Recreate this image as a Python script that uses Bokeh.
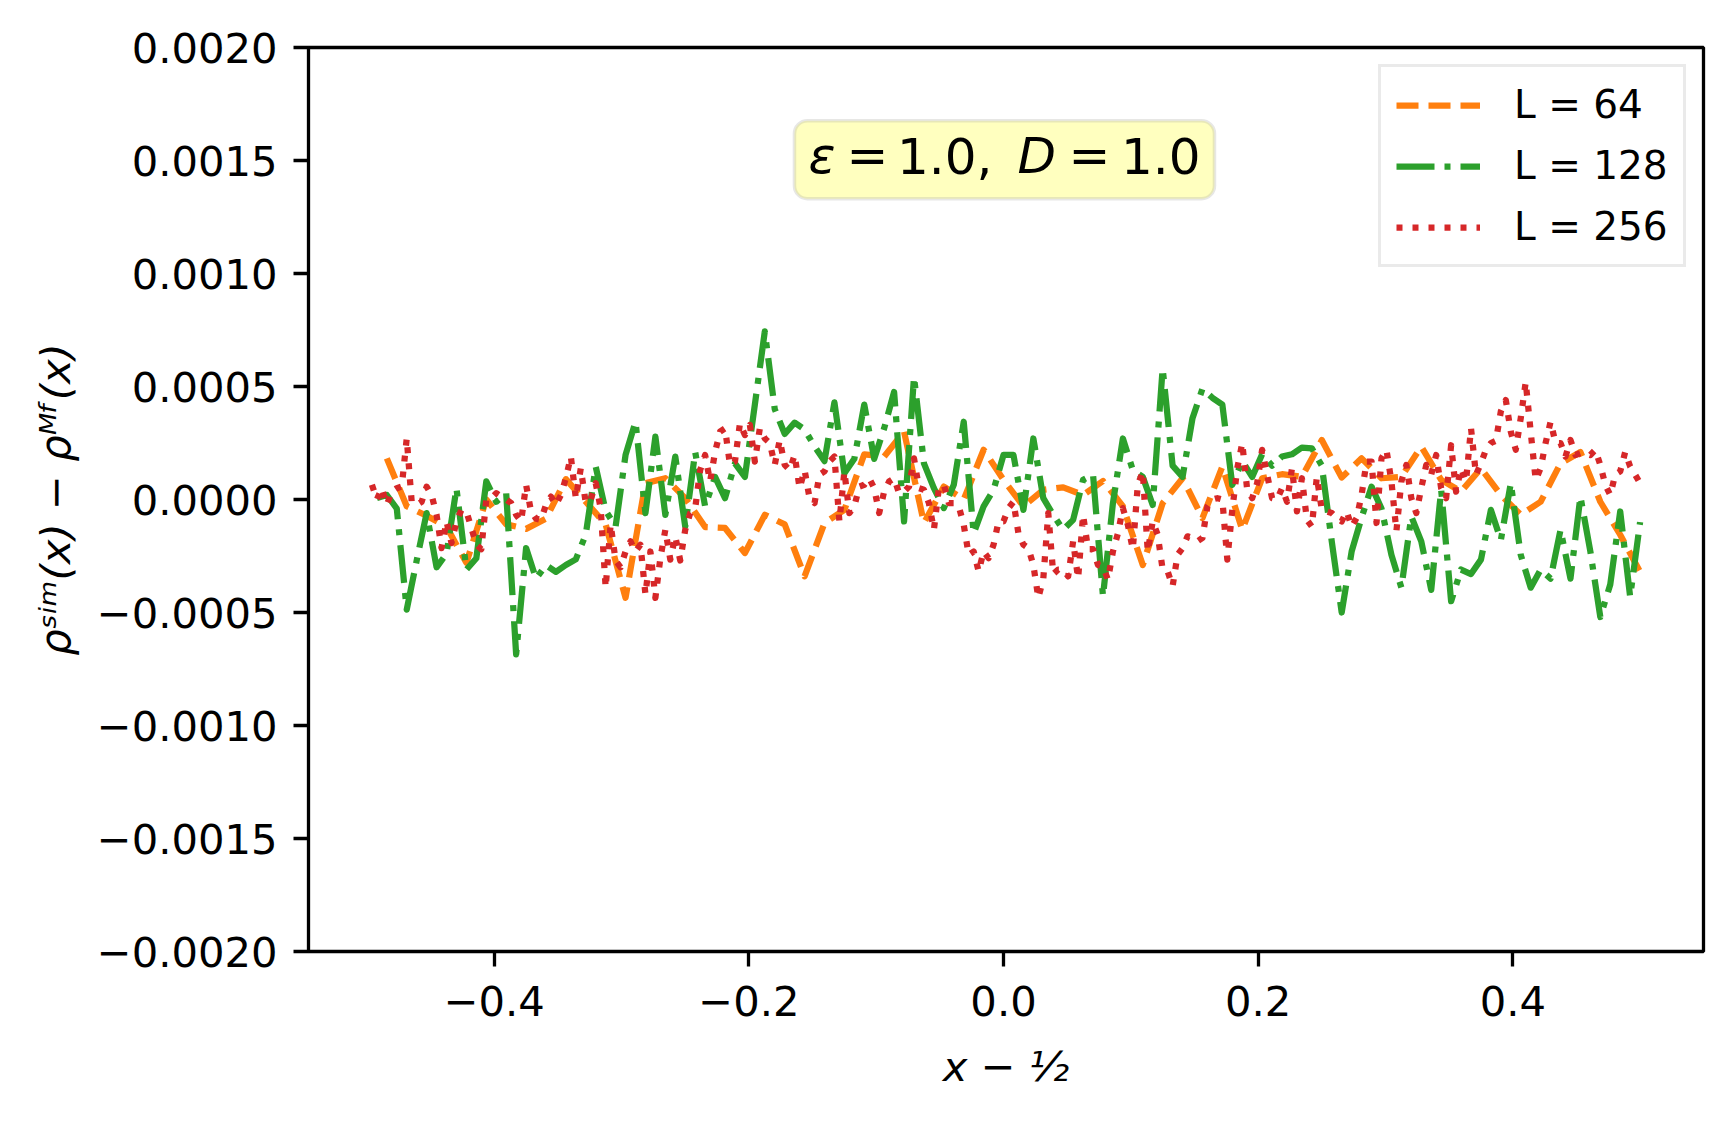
import numpy as np
from bokeh.plotting import figure
from bokeh.models import (FixedTicker, CustomJSTickFormatter, Legend, LegendItem,
                          BoxAnnotation, Label)
from bokeh.embed import file_html
from bokeh.resources import INLINE

# ---------------- data (values in units of 1e-4) ----------------
L_SIZES = [64, 128, 256]
SERIES_LABELS = ["L = 64", "L = 128", "L = 256"]
SERIES_COLORS = ["#ff7f0e", "#2ca02c", "#d62728"]
SERIES_DASHES = ["22 10", "38 10 6 10", "6 10"]
VALUE_UNIT = 1e-4

delta_L64 = [
    1.82, -0.3, -0.72, -1.2, -2.8, 0.0, -1.1, -1.3,
    -0.85, 0.9, -0.1, -1.1, -4.35, 0.72, 0.94, 0.06,
    -1.22, -1.26, -2.37, -0.68, -1.1, -3.4, -1.04, -0.46,
    2.0, 1.9, 3.0, -1.04, 0.57, 0.0, 2.2, 0.87,
    -0.3, 0.43, 0.54, 0.2, 0.82, -0.3, -2.9, -0.16,
    0.94, -0.82, 1.46, -1.34, 0.94, 1.12, 1.0, 2.63,
    0.97, 1.82, 0.94, 1.0, 2.34, 0.87, 0.35, 1.38,
    0.2, -0.68, -0.1, 1.6, 2.1, -0.1, -1.56, -3.2,
]

delta_L128 = [
    0.06, 0.2, -0.4, -4.87, -2.7, -0.6, -3.0, -2.4,
    0.5, -3.1, -2.6, 0.8, -0.1, 0.28, -6.85, -2.15,
    -3.5, -2.9, -3.2, -2.9, -2.65, -1.55, 1.45, -0.5,
    -1.2, 1.97, 3.44, -0.6, 2.78, -0.68, 1.9, -1.2,
    2.1, -0.3, 1.0, 0.06, 1.6, 1.0, 4.2, 7.44,
    4.0, 2.9, 3.4, 3.1, 2.35, 1.7, 4.3, 1.16,
    1.8, 4.2, 1.8, 3.15, 4.76, -0.97, 5.43, 1.6,
    0.5, -0.38, 0.65, 3.44, -1.5, -0.3, 0.43, 1.97,
    1.97, -0.46, 2.7, 0.06, -0.68, -1.34, -0.9, 0.87,
    1.1, -4.28, -0.16, 2.7, 1.3, 1.0, -0.24, 5.8,
    1.5, 1.0, 3.6, 4.9, 4.5, 4.2, 0.65, 1.7,
    1.0, 2.0, 1.5, 1.9, 2.0, 2.3, 2.26, 1.5,
    -1.85, -5.0, -2.3, -0.8, 0.57, -0.4, -2.45, -3.9,
    -0.75, -1.85, -4.0, 0.43, -4.5, -3.1, -3.3, -2.66,
    -0.46, -1.8, 0.72, -2.45, -3.9, -3.1, -3.5, -1.34,
    -3.5, 0.13, -2.3, -5.2, -3.76, -0.53, -4.3, -1.0,
]

delta_L256 = [
    0.65, 0.0, 0.5, -0.24, 0.35, 0.5, 0.57, 2.7,
    -0.1, -0.24, -0.1, 0.57, 0.2, -0.68, -2.15, -0.97,
    -1.93, -0.97, -0.46, -0.53, -1.26, -2.0, -2.2, 0.0,
    0.06, 0.28, 0.13, 0.0, -0.16, -0.68, -0.97, 0.65,
    -0.53, -0.85, -0.9, -0.24, 0.13, -0.24, 0.2, 0.94,
    1.9, 0.06, 1.38, -0.16, 0.0, 0.72, -0.38, -3.9,
    -1.1, -2.7, -3.0, -2.3, -1.85, -2.3, -2.0, -4.2,
    -2.3, -4.35, -2.6, -1.34, -2.66, -1.63, -2.7, -1.34,
    -0.6, -0.4, 1.3, 1.97, 0.8, 2.1, 3.0, 3.15,
    1.53, 1.68, 3.37, 2.85, 3.3, 1.68, 3.15, 2.7,
    2.5, 1.53, 2.63, 1.53, 1.3, 1.97, 0.5, 1.3,
    0.06, -0.16, 1.1, 1.24, 1.68, 1.9, -0.97, 1.24,
    -0.6, -0.3, 0.57, 0.65, 0.94, 0.5, -0.6, 0.35,
    0.8, 0.94, 0.28, 0.35, 0.57, 1.82, 0.5, 0.43,
    -0.16, -1.34, 0.5, 0.65, -0.16, -0.16, -0.3, -1.12,
    -2.45, -2.3, -3.18, -2.3, -2.6, -2.0, -0.97, -0.97,
    -0.38, -0.1, -1.5, -2.0, -2.15, -2.9, -4.35, -3.5,
    -0.6, -3.3, -3.1, -3.1, -3.4, -1.85, -3.5, -0.68,
    -2.2, -2.2, -2.9, -2.96, -3.55, -2.3, -1.5, -0.38,
    -1.12, -2.2, 0.65, 1.24, -2.3, -0.97, -1.56, -3.1,
    -3.18, -3.84, -2.45, -2.15, -1.63, -1.7, -1.85, -1.7,
    -0.3, 0.0, 0.06, 0.0, -2.66, -0.46, 1.38, 2.5,
    0.43, 0.06, 0.72, 2.2, 1.1, 0.06, 0.0, 0.5,
    -0.1, 1.38, -0.53, 0.94, -0.9, -1.2, 1.0, -0.46,
    -0.53, -0.6, -0.82, -0.97, -0.53, -1.2, -0.82, 0.2,
    1.68, 1.68, -1.04, 1.82, 2.2, 0.8, -1.4, 0.8,
    1.53, 0.06, -0.6, 0.5, 1.53, 1.1, 1.97, 0.5,
    0.06, 2.4, 0.35, 1.38, 0.8, 3.15, 1.1, 1.6,
    2.2, 2.5, 2.6, 3.9, 4.4, 3.0, 2.2, 3.6,
    5.2, 3.0, 0.87, 1.38, 2.5, 3.44, 2.5, 2.5,
    1.9, 2.63, 1.97, 2.05, 2.05, 1.97, 2.2, 1.53,
    0.65, 0.2, 1.1, 1.24, 2.1, 1.46, 1.1, 0.72,
]

Y_TICKS = [-0.0020, -0.0015, -0.0010, -0.0005, 0.0, 0.0005, 0.0010, 0.0015, 0.0020]
X_TICKS = [-0.4, -0.2, 0.0, 0.2, 0.4]
Y_LABEL = "ρˢⁱᵐ(x) − ρᴹᶠ(x)"
X_LABEL = "x − ½"

FONT = "DejaVu Sans"
TICK_SIZE = "41.7px"

# ---------------- figure ----------------
p = figure(frame_width=1395, frame_height=904,
           x_range=(-0.5459, 0.5498), y_range=(-0.002, 0.002),
           output_backend="svg", toolbar_location=None,
           min_border_left=308, min_border_right=20,
           min_border_top=47, min_border_bottom=150,
           background_fill_color="white", border_fill_color="white")

p.xgrid.visible = False
p.ygrid.visible = False
p.outline_line_color = "black"
p.outline_line_width = 3.3
p.outline_line_alpha = 1.0

for ax in (p.xaxis[0], p.yaxis[0]):
    ax.axis_line_color = None
    ax.major_tick_out = 15
    ax.major_tick_in = 0
    ax.major_tick_line_width = 3.3
    ax.major_tick_line_color = "black"
    ax.minor_tick_line_color = None
    ax.major_label_text_font = FONT
    ax.major_label_text_font_size = TICK_SIZE
    ax.major_label_text_color = "black"
    ax.axis_label_text_font = FONT
    ax.axis_label_text_font_size = TICK_SIZE
    ax.axis_label_text_color = "black"
    ax.axis_label_text_font_style = "italic"

p.yaxis[0].major_label_standoff = 16
p.xaxis[0].major_label_standoff = 19
p.yaxis[0].ticker = FixedTicker(ticks=Y_TICKS)
p.xaxis[0].ticker = FixedTicker(ticks=X_TICKS)
p.yaxis[0].formatter = CustomJSTickFormatter(
    code="const a = Math.abs(tick).toFixed(4); return (tick < -1e-12 ? '\u2212' : '') + a;")
p.xaxis[0].formatter = CustomJSTickFormatter(
    code="const a = Math.abs(tick).toFixed(1); return (tick < -1e-12 ? '\u2212' : '') + a;")
p.yaxis[0].axis_label = Y_LABEL
p.xaxis[0].axis_label = X_LABEL
p.yaxis[0].axis_label_standoff = 14
p.xaxis[0].axis_label_standoff = 23

# ---------------- lines ----------------
renderers = []
for L, vals, color, dash in zip(L_SIZES, [delta_L64, delta_L128, delta_L256],
                                SERIES_COLORS, SERIES_DASHES):
    x = np.arange(1, len(vals) + 1) / L - 0.5
    y = np.array(vals) * VALUE_UNIT
    r = p.line(x, y, line_color=color, line_width=6.25, line_dash=dash,
               line_join="round", line_cap="butt")
    renderers.append(r)

legend = Legend(items=[LegendItem(label=lab, renderers=[r])
                       for lab, r in zip(SERIES_LABELS, renderers)],
                location="top_right", margin=17, padding=15, spacing=16,
                glyph_width=84, glyph_height=44, label_height=44, label_width=154,
                label_standoff=34,
                label_text_font=FONT, label_text_font_size="39px",
                label_text_color="black",
                border_line_color="#d6d6d6", border_line_width=3.5,
                background_fill_color="white", background_fill_alpha=0.8)
p.add_layout(legend)

# ---------------- parameter box ----------------
box = BoxAnnotation(left=-0.1642, right=0.1657, bottom=0.001331, top=0.001676,
                    fill_color="#ffffbf", fill_alpha=1.0,
                    line_color="#b0b0a8", line_width=3.5, border_radius=13)
p.add_layout(box)

BOX_PIECES = [("ε", "italic", -0.1532), ("=", "normal", -0.1233),
              ("1.0,", "normal", -0.0837), ("D", "italic", 0.0110),
              ("=", "normal", 0.0510), ("1.0", "normal", 0.0923)]
for txt, style, xpos in BOX_PIECES:
    p.add_layout(Label(x=xpos, y=0.001518, text=txt, text_font=FONT,
                       text_font_style=style, text_font_size="50px",
                       text_color="black", text_align="left",
                       text_baseline="alphabetic"))

open("out.html", "w").write(file_html(p, INLINE))
